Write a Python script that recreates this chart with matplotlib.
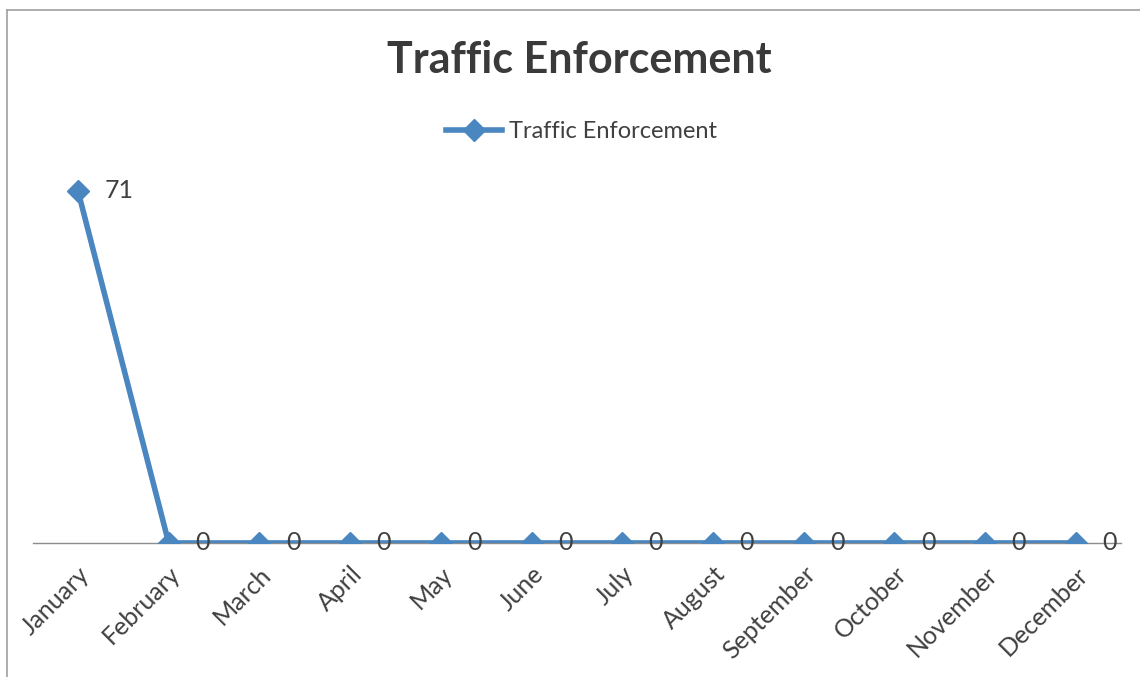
import matplotlib.pyplot as plt
from matplotlib.lines import Line2D

months = ["January", "February", "March", "April", "May", "June",
          "July", "August", "September", "October", "November", "December"]
enforcement = [71, 0, 0, 0, 0, 0, 0, 0, 0, 0, 0, 0]

line_color = "#4a86c0"
text_color = "#404040"

plt.rcParams['font.family'] = ['Lato', 'DejaVu Sans']

fig = plt.figure(figsize=(11.4, 6.77), dpi=100)
ax = fig.add_axes([0.0286, 0.198, 0.955, 0.586])

x = list(range(len(months)))
ax.plot(x, enforcement, color=line_color, linewidth=4, marker='D',
        markersize=11, label="Traffic Enforcement", zorder=3)

# value labels to the right of each point
for xi, v in zip(x, enforcement):
    ax.annotate(str(v), (xi, v), xytext=(19, 0), textcoords='offset points',
                ha='left', va='center', fontsize=18, color=text_color)

ax.set_xlim(-0.5, 11.5)
ax.set_ylim(0, 80)
ax.set_yticks([])
ax.set_xticks(x)
ax.set_xticklabels(months, rotation=45, ha='right', rotation_mode='anchor',
                   fontsize=18, color=text_color)
ax.tick_params(axis='x', length=0, pad=14)
for side in ['top', 'right', 'left']:
    ax.spines[side].set_visible(False)
ax.spines['bottom'].set_color('#8c8c8c')
ax.spines['bottom'].set_linewidth(1.0)
ax.spines['bottom'].set_zorder(1)

fig.text(0.508, 0.911, "Traffic Enforcement", ha='center', va='center',
         fontsize=31, fontweight='bold', color='#3a3a3a')
fig.legend(loc='center', bbox_to_anchor=(0.51, 0.806), frameon=False,
           fontsize=17, handlelength=2.4, handletextpad=0.3,
           labelcolor=text_color)

# chart frame edges
fig.add_artist(Line2D([0.006, 1.0], [0.985, 0.985], color='#a0a0a0', lw=1.2))
fig.add_artist(Line2D([0.006, 0.006], [0.0, 0.985], color='#a0a0a0', lw=1.2))

fig.savefig("out.png", dpi=100)
